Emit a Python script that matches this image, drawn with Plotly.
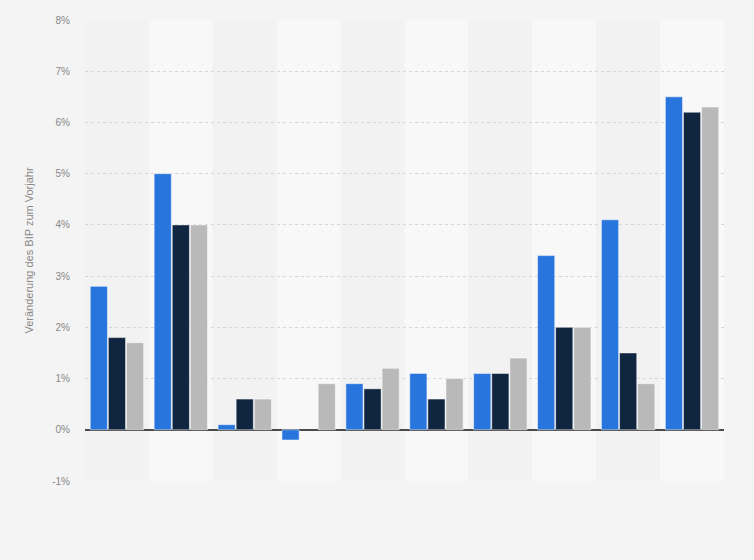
import plotly.graph_objects as go

# groups (no labels shown on the chart)
groups = list(range(10))
series_a = [2.8, 5.0, 0.1, -0.2, 0.9, 1.1, 1.1, 3.4, 4.1, 6.5]
series_b = [1.8, 4.0, 0.6, None, 0.8, 0.6, 1.1, 2.0, 1.5, 6.2]
series_c = [1.7, 4.0, 0.6, 0.9, 1.2, 1.0, 1.4, 2.0, 0.9, 6.3]
y_ticks = [-1, 0, 1, 2, 3, 4, 5, 6, 7, 8]
y_labels = [f"{v}%" for v in y_ticks]

colors = ["#2876dd", "#0f2540", "#b9b9b9"]

fig = go.Figure()
for vals, col in zip([series_a, series_b, series_c], colors):
    fig.add_trace(go.Bar(
        x=groups, y=vals, marker_color=col,
        marker_line=dict(color="rgba(255,255,255,0.5)", width=1),
        showlegend=False,
    ))

# alternating background bands
shapes = []
for i in groups:
    shapes.append(dict(
        type="rect", xref="x", yref="y", layer="below",
        x0=i - 0.5, x1=i + 0.5, y0=-1, y1=8, line_width=0,
        fillcolor="#f8f8f8" if i % 2 else "#f2f2f2",
    ))

fig.update_layout(
    width=754, height=560,
    margin=dict(l=85, r=30, t=20, b=79),
    paper_bgcolor="#f4f4f4", plot_bgcolor="#f4f4f4",
    barmode="group", bargap=0.15, bargroupgap=0.05,
    shapes=shapes,
    font=dict(family="Liberation Sans, Arial, sans-serif", size=10, color="#888"),
    xaxis=dict(range=[-0.5, 9.5], showticklabels=False, showgrid=False,
               zeroline=False, fixedrange=True),
    yaxis=dict(range=[-1, 8], tickvals=y_ticks, ticktext=y_labels,
               showgrid=True, gridcolor="#d6d6d6", griddash="dot", gridwidth=1,
               zeroline=True, zerolinecolor="#4a4a4a", zerolinewidth=1.5,
               ticks="", ticklabelstandoff=14,
               title=dict(text="Veränderung des BIP zum Vorjahr",
                          font=dict(size=11, color="#888"), standoff=16)),
)

# page has a default 8px body margin; drop it so the figure fills the window
fig.write_html("out.html", config={"displayModeBar": False},
               post_script="document.body.style.margin='0';")
